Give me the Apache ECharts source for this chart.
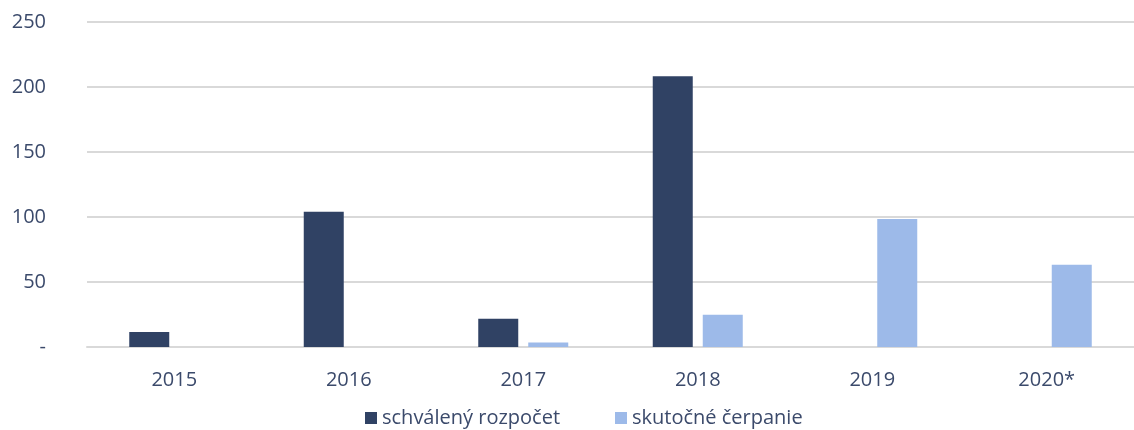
<!DOCTYPE html>
<html>
<head>
<meta charset="utf-8">
<script src="https://cdn.jsdelivr.net/npm/echarts@6/dist/echarts.min.js"></script>
<style>
  html, body { margin: 0; padding: 0; background: #fff; }
  #chart { width: 1134px; height: 430px; }
</style>
</head>
<body>
<div id="chart"></div>
<script>
var years = ['2015', '2016', '2017', '2018', '2019', '2020*'];
var schvaleny = [11.5, 104, 21.7, 208.2, null, null];
var cerpanie = [null, null, 3.4, 24.8, 98.5, 63.2];
var yTicks = [0, 50, 100, 150, 200, 250];

var textColor = '#3b4a6b';
var font = '"Open Sans", "Noto Sans", sans-serif';

var chart = echarts.init(document.getElementById('chart'));

chart.setOption({
    animation: false,
    backgroundColor: '#fff',
    grid: {
        left: 87,
        right: 0,
        top: 22,
        bottom: 83
    },
    legend: {
        left: 360,
        top: 403,
        itemWidth: 12,
        itemHeight: 12,
        itemGap: 55,
        icon: 'rect',
        textStyle: { color: textColor, fontSize: 20, fontFamily: font },
        data: ['schválený rozpočet', 'skutočné čerpanie']
    },
    xAxis: {
        type: 'category',
        data: years,
        axisLine: { lineStyle: { color: '#d9d9d9', width: 2 } },
        axisTick: { show: false },
        axisLabel: { color: textColor, fontSize: 20, fontFamily: font, margin: 23 }
    },
    yAxis: {
        type: 'value',
        min: yTicks[0],
        max: yTicks[yTicks.length - 1],
        interval: 50,
        axisLine: { show: false },
        axisTick: { show: false },
        splitLine: { lineStyle: { color: '#d9d9d9', width: 2 } },
        axisLabel: {
            color: textColor,
            fontSize: 20,
            fontFamily: font,
            margin: 41,
            formatter: function (v) { return v === 0 ? '-' : String(v); }
        }
    },
    series: [
        {
            name: 'schválený rozpočet',
            type: 'bar',
            data: schvaleny,
            barWidth: 40,
            barGap: '25%',
            itemStyle: { color: '#304264' }
        },
        {
            name: 'skutočné čerpanie',
            type: 'bar',
            data: cerpanie,
            barWidth: 40,
            itemStyle: { color: '#9dbae9' }
        }
    ]
});
</script>
</body>
</html>
